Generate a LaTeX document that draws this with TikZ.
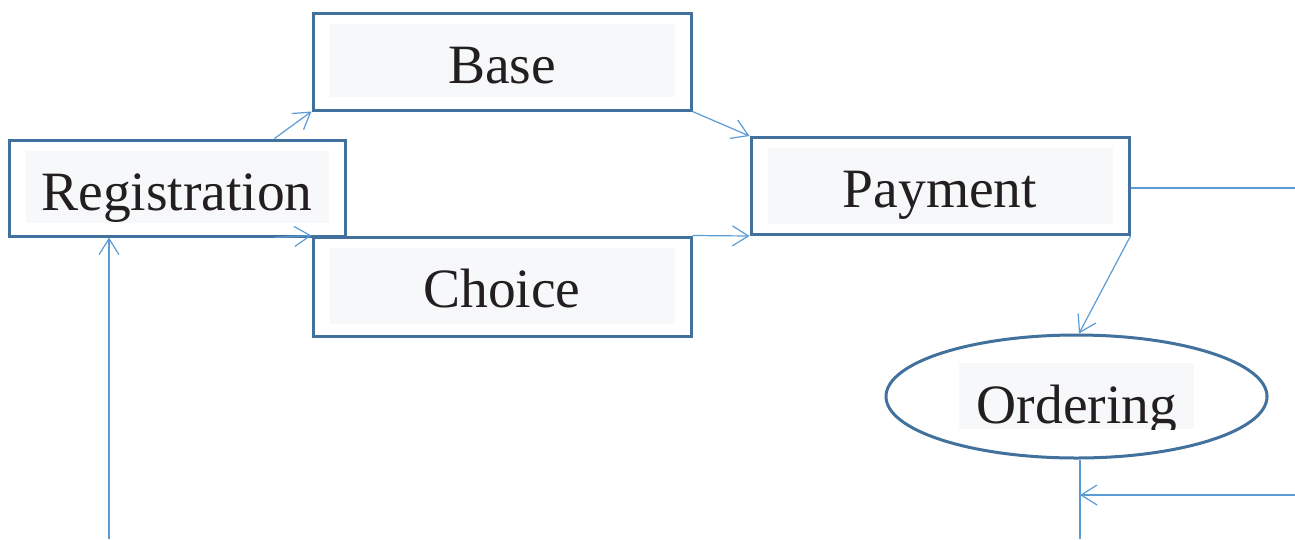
\documentclass[tikz,border=0pt]{standalone}
\usepackage{fontspec}
\setmainfont{Liberation Serif}
\newfontfamily\labelfont{Liberation Serif}
\usetikzlibrary{arrows.meta,calc,shapes.geometric}
\definecolor{boxline}{HTML}{41719C}
\definecolor{arrowline}{HTML}{5B9BD5}
\definecolor{labelbg}{HTML}{F7F8FA}
\definecolor{labeltext}{HTML}{231F20}
\tikzset{
  x=1pt, y=-1pt,
  stagebox/.style={draw=boxline, line width=3pt, rectangle, inner sep=0pt},
  stageoval/.style={draw=boxline, line width=3pt, ellipse, inner sep=0pt},
  labelpatch/.style={fill=labelbg, draw=none},
  labeltxt/.style={anchor=base, inner sep=0pt, text=labeltext,
    font=\labelfont\fontsize{55.5}{60}\selectfont},
  flow/.style={draw=arrowline, line width=1.2pt,
    -{Straight Barb[length=16pt,width=20pt,line width=1.2pt]}},
  flowplain/.style={draw=arrowline, line width=1.2pt},
}
\begin{document}
\begin{tikzpicture}
\useasboundingbox (0,0) rectangle (1295,539);

% stage outlines
\node[stagebox, minimum width=336pt, minimum height=96pt] (reg) at (177,188) {};
\node[stagebox, minimum width=378pt, minimum height=97pt] (base) at (502,61.5) {};
\node[stagebox, minimum width=378pt, minimum height=99pt] (choice) at (502,286.5) {};
\node[stagebox, minimum width=378pt, minimum height=97pt] (pay) at (940,186) {};
\node[stageoval, minimum width=381pt, minimum height=123pt] (ord) at (1076.5,396.5) {};

% label patches
\fill[labelpatch] (26,151) rectangle (329,223);
\fill[labelpatch] (330,24) rectangle (675,97);
\fill[labelpatch] (330,248) rectangle (675,324);
\fill[labelpatch] (768,148) rectangle (1113,224);
\fill[labelpatch] (959,363) rectangle (1194,429);

% labels
\node[labeltxt] (regT) at (177,210) {Registration};
\node[labeltxt] (baseT) at (502,83) {Base};
\node[labeltxt] (choiceT) at (502,307) {Choice};
\node[labeltxt] (payT) at (940,207) {Payment};
\begin{scope}
  \clip (959,363) rectangle (1194,429);
  \node[labeltxt] (ordT) at (1077,423) {Ordering};
\end{scope}

% free ends at the picture border
\coordinate (payOut) at (1295,188);
\coordinate (ordIn) at (1295,495);
\coordinate (ordBottom) at (1080,539);
\coordinate (regIn) at (109,539);

% connectors
\draw[flow] ($(reg.north east)+(-72,0)$) -- (base.south west);
\draw[flow] ($(reg.south east)+(-72,0)$) -- (choice.north west);
\draw[flow] (base.south east) -- (pay.north west);
\draw[flow] (choice.north east) -- (pay.south west);
\draw[flowplain] (payOut -| pay.east) -- (payOut);
\draw[flow] (pay.south east) -- ($(ord.north)+(2.5,0)$);
\draw[flowplain] ($(ord.south)+(3.5,0)$) -- (ordBottom);
\draw[flow] (ordIn) -- (ordIn -| ordBottom);
\draw[flow] (regIn) -- (regIn |- reg.south);
\end{tikzpicture}
\end{document}
